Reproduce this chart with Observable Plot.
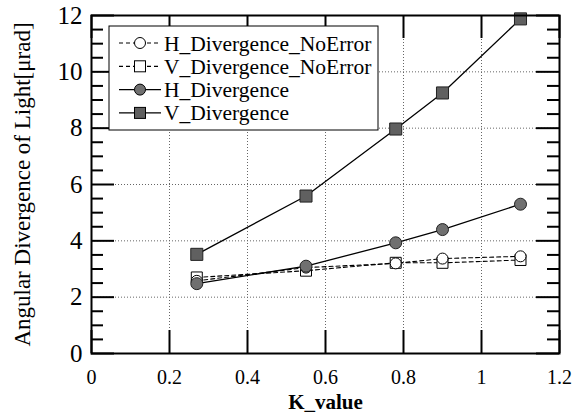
<!DOCTYPE html>
<html>
<head>
<meta charset="utf-8">
<script src="https://cdn.jsdelivr.net/npm/d3@7"></script>
<script src="https://cdn.jsdelivr.net/npm/@observablehq/plot@0.6"></script>
<style>
  html, body { margin: 0; padding: 0; background: #fff; }
  #chart svg, #chart svg text { font-family: 'Liberation Serif', 'Times New Roman', serif !important; }
</style>
</head>
<body>
<div id="chart"></div>
<script>
// ---- data ----
const kValues = [0.27, 0.55, 0.78, 0.9, 1.1];
const hNoError = [2.58, 3.05, 3.2, 3.37, 3.45];
const vNoError = [2.7, 2.94, 3.22, 3.22, 3.32];
const hDivergence = [2.48, 3.1, 3.93, 4.4, 5.3];
const vDivergence = [3.52, 5.59, 7.97, 9.25, 11.88];
const seriesNames = ["H_Divergence_NoError", "V_Divergence_NoError", "H_Divergence", "V_Divergence"];
const xTicks = [0, 0.2, 0.4, 0.6, 0.8, 1, 1.2];
const yTicks = [0, 2, 4, 6, 8, 10, 12];
const yMinor = [0.5,1,1.5,2.5,3,3.5,4.5,5,5.5,6.5,7,7.5,8.5,9,9.5,10.5,11,11.5];
const xLabel = "K_value";
const yLabel = "Angular Divergence of Light[\u03bcrad]";

const seriesValues = [hNoError, vNoError, hDivergence, vDivergence];
const rows = [];
seriesNames.forEach((name, i) => kValues.forEach((k, j) => rows.push({series: name, k, v: seriesValues[i][j]})));
const bySeries = name => rows.filter(r => r.series === name);

const W = 576, H = 412;
const mL = 91, mR = 17, mT = 15, mB = 59;
const fw = W - mL - mR, fh = H - mT - mB;
const major = 23, minor = 12;

const chart = Plot.plot({
  width: W, height: H,
  marginLeft: mL, marginRight: mR, marginTop: mT, marginBottom: mB,
  style: {fontFamily: "'Liberation Serif', 'Times New Roman', serif", background: "#fff", color: "#000"},
  x: {domain: [0, 1.2]},
  y: {domain: [0, 12]},
  marks: [
    Plot.gridX(xTicks.slice(1, -1), {stroke: "#666", strokeOpacity: 1, strokeDasharray: "1,2"}),
    Plot.gridY(yTicks.slice(1, -1), {stroke: "#666", strokeOpacity: 1, strokeDasharray: "1,2"}),
    Plot.line(bySeries(seriesNames[0]), {x: "k", y: "v", stroke: "#000", strokeWidth: 1.1, strokeDasharray: "4,3"}),
    Plot.line(bySeries(seriesNames[1]), {x: "k", y: "v", stroke: "#000", strokeWidth: 1.1, strokeDasharray: "4,3"}),
    Plot.line(bySeries(seriesNames[2]), {x: "k", y: "v", stroke: "#000", strokeWidth: 1.3}),
    Plot.line(bySeries(seriesNames[3]), {x: "k", y: "v", stroke: "#000", strokeWidth: 1.3}),
    Plot.dot(bySeries(seriesNames[1]), {x: "k", y: "v", symbol: "square", r: 6.2, fill: "#fff", stroke: "#000", strokeWidth: 1}),
    Plot.dot(bySeries(seriesNames[0]), {x: "k", y: "v", symbol: "circle", r: 5.5, fill: "#fff", stroke: "#000", strokeWidth: 1}),
    Plot.dot(bySeries(seriesNames[2]), {x: "k", y: "v", symbol: "circle", r: 6, fill: "#707070", stroke: "#222", strokeWidth: 1}),
    Plot.dot(bySeries(seriesNames[3]), {x: "k", y: "v", symbol: "square", r: 6.8, fill: "#606060", stroke: "#222", strokeWidth: 1}),
    Plot.frame({stroke: "#000", strokeWidth: 2}),
    Plot.tickY(yTicks, {y: d => d, insetRight: fw - major, stroke: "#000", strokeWidth: 2}),
    Plot.tickY(yTicks, {y: d => d, insetLeft: fw - major, stroke: "#000", strokeWidth: 2}),
    Plot.tickY(yMinor, {y: d => d, insetRight: fw - minor, stroke: "#000", strokeWidth: 2}),
    Plot.tickY(yMinor, {y: d => d, insetLeft: fw - minor, stroke: "#000", strokeWidth: 2}),
    Plot.tickX(xTicks, {x: d => d, insetTop: fh - major, stroke: "#000", strokeWidth: 2}),
    Plot.tickX(xTicks, {x: d => d, insetBottom: fh - major, stroke: "#000", strokeWidth: 2}),
    Plot.axisY({ticks: yTicks, tickSize: 0, tickPadding: 9, fontSize: 25, label: null, tickFormat: d => String(d)}),
    Plot.axisX({ticks: xTicks, tickSize: 0, tickPadding: 16, fontSize: 20, label: null, tickFormat: d => String(d)}),
    Plot.text([yLabel], {text: d => d, frameAnchor: "left", textAnchor: "middle", rotate: -90, dx: -69, fontSize: 23, fill: "#000"}),
    Plot.text([xLabel], {text: d => d, frameAnchor: "bottom", textAnchor: "middle", dy: 55, fontSize: 21, fontWeight: "bold", fill: "#000"})
  ]
});
document.getElementById("chart").appendChild(chart);

// ---- legend (inside the plot frame, top-left) ----
const svg = d3.select(chart);
const lg = svg.append("g").attr("transform", `translate(${mL + 18},${mT + 11})`);
lg.append("rect").attr("x", 0).attr("y", 0).attr("width", 269).attr("height", 104)
  .attr("fill", "#fff").attr("stroke", "#000").attr("stroke-width", 1);
const styles = [
  {dash: "4,3", shape: "circle", fill: "#fff"},
  {dash: "4,3", shape: "square", fill: "#fff"},
  {dash: null, shape: "circle", fill: "#707070"},
  {dash: null, shape: "square", fill: "#606060"}
];
seriesNames.forEach((name, i) => {
  const cy = 17 + i * 23.3;
  const s = styles[i];
  const ln = lg.append("line").attr("x1", 10).attr("x2", 52).attr("y1", cy).attr("y2", cy)
    .attr("stroke", "#000").attr("stroke-width", 1.2);
  if (s.dash) ln.attr("stroke-dasharray", s.dash);
  if (s.shape === "circle") {
    lg.append("circle").attr("cx", 31).attr("cy", cy).attr("r", 5.5)
      .attr("fill", s.fill).attr("stroke", "#000").attr("stroke-width", 1);
  } else {
    lg.append("rect").attr("x", 25.5).attr("y", cy - 5.5).attr("width", 11).attr("height", 11)
      .attr("fill", s.fill).attr("stroke", "#000").attr("stroke-width", 1);
  }
  lg.append("text").attr("x", 55).attr("y", cy).attr("dy", "0.35em")
    .attr("text-anchor", "start").attr("font-size", 21.5).attr("fill", "#000")
    .style("font-family", "'Liberation Serif', serif").text(name);
});
</script>
</body>
</html>
